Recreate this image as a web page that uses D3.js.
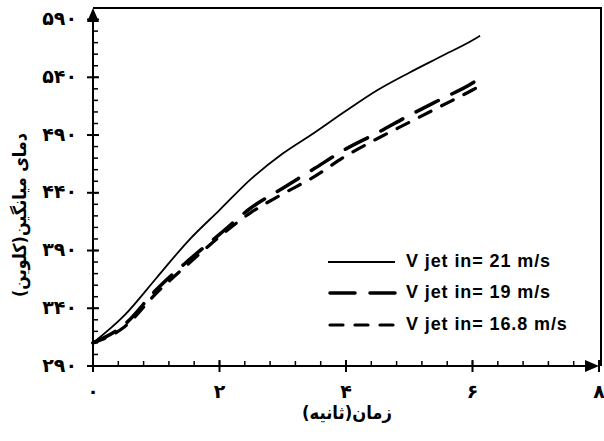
<!DOCTYPE html>
<html lang="fa">
<head>
<meta charset="UTF-8">
<title>chart</title>
<script src="https://d3js.org/d3.v7.min.js"></script>
<style>
  body { margin: 0; background: #fff; }
  svg { display: block; }
</style>
</head>
<body>
<svg></svg>
<script>
// data
const time21 = [0, 0.5, 1, 1.5, 2, 2.5, 3, 3.5, 4, 4.5, 5, 5.5, 6, 6.12];
const temp21 = [310, 334, 366, 398, 425, 452, 474, 492, 511, 529, 544, 558, 572, 576];
const time19 = [0, 0.5, 1, 1.5, 2, 2.5, 3, 3.5, 4, 4.5, 5, 5.5, 6, 6.12];
const temp19 = [310, 326, 356, 381, 404, 427, 444, 461, 478, 492, 507, 521, 535, 539.5];
const time168 = [0, 0.5, 1, 1.5, 2, 2.5, 3, 3.5, 4, 4.5, 5, 5.5, 6, 6.05];
const temp168 = [310, 324, 353, 378, 402, 423, 439, 454, 472, 487, 501, 515, 529, 530.5];

const seriesNames = ["V jet in= 21 m/s", "V jet in= 19 m/s", "V jet in= 16.8 m/s"];
const xTicks = [0, 2, 4, 6, 8];
const yTicks = [290, 340, 390, 440, 490, 540, 590];
const xTitle = "زمان(ثانیه)";
const yTitle = "دمای میانگین(کلوین)";

const width = 604, height = 441;
const x0 = 93, x1 = 599, y0 = 366, y1 = 8;

const fa = n => String(n).replace(/\d/g, d => "۰۱۲۳۴۵۶۷۸۹"[d]);

const x = d3.scaleLinear().domain([0, 8]).range([x0, x1]);
const y = d3.scaleLinear().domain([290, 600]).range([y0, y1]);

const svg = d3.select("svg").attr("width", width).attr("height", height);

// frame (top & right)
svg.append("path")
    .attr("d", `M${x0},${y1}H601V${y0}`)
    .attr("fill", "none").attr("stroke", "#000").attr("stroke-width", 2);

// minor ticks
const xMinor = d3.range(0, 8.001, 0.4);
svg.append("g").selectAll("line").data(xMinor).join("line")
    .attr("x1", d => x(d)).attr("x2", d => x(d))
    .attr("y1", y0).attr("y2", y0 - 5)
    .attr("stroke", "#000").attr("stroke-width", 1.5);
const yMinor = d3.range(290, 600, 10);
svg.append("g").selectAll("line").data(yMinor).join("line")
    .attr("x1", x0).attr("x2", x0 + 5)
    .attr("y1", d => y(d)).attr("y2", d => y(d))
    .attr("stroke", "#000").attr("stroke-width", 1.5);

// major ticks
svg.append("g").selectAll("line").data(xTicks).join("line")
    .attr("x1", d => x(d)).attr("x2", d => x(d))
    .attr("y1", y0 + 6).attr("y2", y0 - 6)
    .attr("stroke", "#000").attr("stroke-width", 2);
svg.append("g").selectAll("line").data(yTicks).join("line")
    .attr("x1", x0 - 6).attr("x2", x0 + 6)
    .attr("y1", d => y(d)).attr("y2", d => y(d))
    .attr("stroke", "#000").attr("stroke-width", 2);

// axes with arrows
svg.append("line").attr("x1", x0).attr("x2", x1 - 10).attr("y1", y0).attr("y2", y0)
    .attr("stroke", "#000").attr("stroke-width", 2);
svg.append("line").attr("x1", x0).attr("x2", x0).attr("y1", y0).attr("y2", y1 + 10)
    .attr("stroke", "#000").attr("stroke-width", 2);
svg.append("path").attr("d", `M${x1},${y0}l-14,-6v12z`).attr("fill", "#000");
svg.append("path").attr("d", `M${x0},${y1}l-6,14h12z`).attr("fill", "#000");

// tick labels
svg.append("g").selectAll("text").data(xTicks).join("text")
    .attr("x", d => x(d)).attr("y", 392)
    .attr("text-anchor", "middle").attr("dominant-baseline", "middle")
    .style("font", "bold 19px 'DejaVu Sans'")
    .text(d => fa(d));
svg.append("g").selectAll("text").data(yTicks).join("text")
    .attr("x", 77).attr("y", d => y(d))
    .attr("text-anchor", "end").attr("dominant-baseline", "middle")
    .style("font", "bold 19px 'DejaVu Sans'")
    .text(d => fa(d));

// titles
svg.append("text").attr("x", 347).attr("y", 414)
    .attr("text-anchor", "middle").attr("dominant-baseline", "middle")
    .attr("direction", "rtl")
    .attr("textLength", 90).attr("lengthAdjust", "spacingAndGlyphs")
    .style("font", "bold 18px 'DejaVu Sans'").text(xTitle);
svg.append("text").attr("transform", "translate(21,215) rotate(-90)")
    .attr("text-anchor", "middle").attr("dominant-baseline", "middle")
    .attr("direction", "rtl")
    .attr("textLength", 164).attr("lengthAdjust", "spacingAndGlyphs")
    .style("font", "bold 18px 'DejaVu Sans'").text(yTitle);

// series
const styles = [
    { w: 1.8, dash: null },
    { w: 3.5, dash: "25,15" },
    { w: 3.2, dash: "13,12" }
];
const series = [
    d3.zip(time21, temp21),
    d3.zip(time19, temp19),
    d3.zip(time168, temp168)
];
const line = d3.line().x(d => x(d[0])).y(d => y(d[1])).curve(d3.curveMonotoneX);

svg.append("g").selectAll("path").data(series).join("path")
    .attr("d", line)
    .attr("fill", "none").attr("stroke", "#000")
    .attr("stroke-width", (d, i) => styles[i].w)
    .attr("stroke-dasharray", (d, i) => styles[i].dash)
    .attr("stroke-linecap", (d, i) => i ? "round" : "butt");

// legend
const legendY = [262, 293, 325];
const leg = svg.append("g").selectAll("g").data(seriesNames).join("g")
    .attr("transform", (d, i) => `translate(0,${legendY[i]})`);
leg.append("line")
    .attr("x1", (d, i) => i ? 330 : 328).attr("x2", 395)
    .attr("stroke", "#000")
    .attr("stroke-width", (d, i) => styles[i].w)
    .attr("stroke-dasharray", (d, i) => styles[i].dash)
    .attr("stroke-linecap", (d, i) => i ? "round" : "butt");
leg.append("text").attr("x", 406).attr("dominant-baseline", "middle")
    .style("font", "bold 18px 'Liberation Sans'")
    .style("letter-spacing", "0.9px")
    .text(d => d);
</script>
</body>
</html>
